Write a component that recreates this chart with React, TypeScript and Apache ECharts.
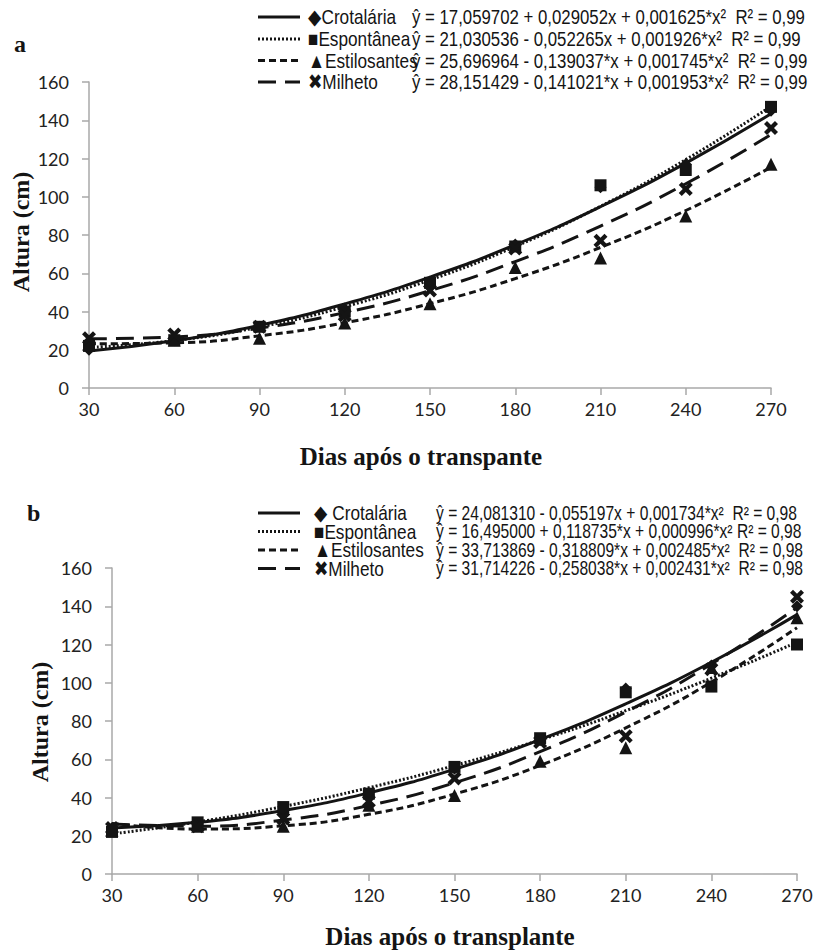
import React, { useEffect, useRef } from "react";
import * as echarts from "echarts";

// ---------- data ----------
const days = [30, 60, 90, 120, 150, 180, 210, 240, 270];
const yTicks = [0, 20, 40, 60, 80, 100, 120, 140, 160];
const seriesNames = ["Crotalária", "Espontânea", "Estilosantes", "Milheto"];

// Panel a – observed heights (cm)
const aCrotalaria = [20, 25, 32, 41, 55, 75, 105, 117, 145];
const aEspontanea = [22, 25, 32, 40, 55, 74, 106, 114, 147];
const aEstilosantes = [23, 25, 26, 34, 44, 63, 68, 90, 117];
const aMilheto = [26, 28, 32, 38, 51, 73, 77, 104, 136];
// Panel a – trend lines (read at each day)
const aFitCrotalaria = [19.4, 24.7, 32.8, 44.0, 58.0, 74.9, 94.8, 117.6, 143.4];
const aFitEspontanea = [21.2, 24.8, 31.9, 42.5, 56.5, 74.0, 95.0, 119.4, 147.3];
const aFitEstilosantes = [23.1, 23.6, 27.3, 34.1, 44.1, 57.2, 73.5, 92.8, 115.4];
const aFitMilheto = [25.7, 26.7, 31.3, 39.4, 50.9, 66.1, 84.7, 106.8, 132.5];
const aLegendNames = ["◆Crotalária", "■Espontânea", "▲Estilosantes", "✖Milheto"];
const aEquations = [
  "ŷ = 17,059702 + 0,029052x + 0,001625*x²  R² = 0,99",
  "ŷ = 21,030536 - 0,052265x + 0,001926*x²  R² = 0,99",
  "ŷ = 25,696964 - 0,139037*x + 0,001745*x²  R² = 0,99",
  "ŷ = 28,151429 - 0,141021*x + 0,001953*x²  R² = 0,99",
];

// Panel b – observed heights (cm)
const bCrotalaria = [24, 26, 32, 40, 55, 70, 97, 109, 140];
const bEspontanea = [22, 27, 35, 42, 56, 71, 95, 98, 120];
const bEstilosantes = [23, 25, 25, 36, 41, 59, 66, 108, 134];
const bMilheto = [24, 25, 29, 38, 50, 69, 72, 107, 145];
// Panel b – trend lines (read at each day)
const bFitCrotalaria = [24.0, 27.0, 33.2, 42.4, 54.8, 70.3, 89.0, 110.7, 135.6];
const bFitEspontanea = [21.0, 27.2, 35.3, 45.1, 56.7, 70.1, 85.4, 102.4, 121.2];
const bFitEstilosantes = [26.4, 23.5, 25.2, 31.2, 41.8, 56.8, 76.4, 100.3, 128.8];
const bFitMilheto = [26.2, 25.0, 28.2, 35.8, 47.7, 64.0, 84.7, 109.8, 139.3];
const bLegendNames = ["◆ Crotalária", "■Espontânea", "▲Estilosantes", "✖Milheto"];
const bEquations = [
  "ŷ = 24,081310 - 0,055197x + 0,001734*x²  R² = 0,98",
  "ŷ = 16,495000 + 0,118735*x + 0,000996*x² R² = 0,98",
  "ŷ = 33,713869 - 0,318809*x + 0,002485*x²  R² = 0,98",
  "ŷ = 31,714226 - 0,258038*x + 0,002431*x²  R² = 0,98",
];

// ---------- styling ----------
const X_PATH =
  "path://M0,3 L3,0 L7,4 L11,0 L14,3 L10,7 L14,11 L11,14 L7,10 L3,14 L0,11 L4,7 Z";
const markerSymbols = ["diamond", "rect", "triangle", X_PATH];
const markerSizes = [12, 12, 13, 14];
const lineTypes: any[] = ["solid", [2, 2], [7, 4], [18, 9]];
const INK = "#141414";
const AXIS = "#a8a8a8";
const TICK_FONT = "Lato, 'Open Sans', sans-serif";
const LEG_FONT = "'Liberation Sans', Arial, sans-serif";
const SERIF = "'Liberation Serif', 'DejaVu Serif', serif";

export default function App() {
  const ref = useRef<HTMLDivElement>(null);
  useEffect(() => {
    if (!ref.current) return;
    const chart = echarts.init(ref.current, null, { renderer: "svg" });

    const grids = [
      { left: 89, top: 82, width: 682, height: 306 },
      { left: 112, top: 568, width: 685, height: 306 },
    ];
    const panelObs = [
      [aCrotalaria, aEspontanea, aEstilosantes, aMilheto],
      [bCrotalaria, bEspontanea, bEstilosantes, bMilheto],
    ];
    const panelFit = [
      [aFitCrotalaria, aFitEspontanea, aFitEstilosantes, aFitMilheto],
      [bFitCrotalaria, bFitEspontanea, bFitEstilosantes, bFitMilheto],
    ];

    const xAxes = grids.map((_, i) => ({
      type: "value",
      gridIndex: i,
      min: days[0],
      max: days[days.length - 1],
      interval: 30,
      axisLine: { lineStyle: { color: AXIS, width: 1.5 } },
      axisTick: { show: true, length: 7, lineStyle: { color: AXIS, width: 1.5 } },
      splitLine: { show: false },
      axisLabel: { color: "#222", fontSize: 18, fontFamily: TICK_FONT, margin: 12 },
    }));
    const yAxes = grids.map((_, i) => ({
      type: "value",
      gridIndex: i,
      min: yTicks[0],
      max: yTicks[yTicks.length - 1],
      interval: 20,
      axisLine: { show: true, lineStyle: { color: AXIS, width: 1.5 } },
      axisTick: { show: true, length: 7, lineStyle: { color: AXIS, width: 1.5 } },
      splitLine: { show: false },
      axisLabel: { color: "#222", fontSize: 18, fontFamily: TICK_FONT, margin: 20 },
    }));

    const series: any[] = [];
    for (let p = 0; p < 2; p++) {
      for (let s = 0; s < 4; s++) {
        series.push({
          type: "line",
          name: seriesNames[s] + " ajuste",
          xAxisIndex: p,
          yAxisIndex: p,
          data: days.map((d, k) => [d, panelFit[p][s][k]]),
          smooth: true,
          showSymbol: false,
          symbol: "none",
          lineStyle: { color: INK, width: 3, type: lineTypes[s] },
          z: 2,
        });
      }
      for (let s = 0; s < 4; s++) {
        series.push({
          type: "scatter",
          name: seriesNames[s],
          xAxisIndex: p,
          yAxisIndex: p,
          data: days.map((d, k) => [d, panelObs[p][s][k]]),
          symbol: markerSymbols[s],
          symbolSize: markerSizes[s],
          itemStyle: { color: INK, opacity: 1 },
          z: 3,
        });
      }
    }

    const graphic: any[] = [];
    const legendCfg = [
      { rows: [17, 39, 60.5, 82], lineX: 258, markX: 308, eqX: 412, names: aLegendNames, eqs: aEquations, size: 21, sx: 0.8 },
      { rows: [513, 531.5, 550, 568.5], lineX: 258, markX: 314, eqX: 436, names: bLegendNames, eqs: bEquations, size: 20, sx: 0.78 },
    ];
    legendCfg.forEach((cfg) => {
      for (let s = 0; s < 4; s++) {
        const y = cfg.rows[s];
        graphic.push({
          type: "line",
          shape: { x1: cfg.lineX, y1: y, x2: cfg.lineX + 42, y2: y },
          style: { stroke: INK, lineWidth: 3, lineDash: s === 0 ? null : lineTypes[s] },
        });
        graphic.push({
          type: "text",
          x: cfg.markX,
          y,
          scaleX: 0.82,
          style: {
            text: cfg.names[s],
            fill: INK,
            font: `21px ${LEG_FONT}`,
            verticalAlign: "middle",
          },
        });
        graphic.push({
          type: "text",
          x: cfg.eqX,
          y,
          scaleX: cfg.sx,
          style: {
            text: cfg.eqs[s],
            fill: INK,
            font: `${cfg.size}px ${LEG_FONT}`,
            verticalAlign: "middle",
          },
        });
      }
    });
    // Panel letters
    graphic.push({
      type: "text",
      x: 14,
      y: 44,
      style: { text: "a", fill: INK, font: `bold 24px ${SERIF}`, verticalAlign: "middle" },
    });
    graphic.push({
      type: "text",
      x: 27,
      y: 513,
      style: { text: "b", fill: INK, font: `bold 24px ${SERIF}`, verticalAlign: "middle" },
    });
    // Axis titles
    const titles = [
      { yx: 21, yy: 232, xx: 421, xy: 456, xt: "Dias após o transpante" },
      { yx: 40, yy: 722, xx: 450, xy: 936, xt: "Dias após o transplante" },
    ];
    titles.forEach((t) => {
      graphic.push({
        type: "text",
        x: t.yx,
        y: t.yy,
        rotation: Math.PI / 2,
        style: {
          text: "Altura (cm)",
          fill: INK,
          font: `bold 24px ${SERIF}`,
          align: "center",
          verticalAlign: "middle",
        },
      });
      graphic.push({
        type: "text",
        x: t.xx,
        y: t.xy,
        style: {
          text: t.xt,
          fill: INK,
          font: `bold 25px ${SERIF}`,
          align: "center",
          verticalAlign: "middle",
        },
      });
    });

    chart.setOption({
      animation: false,
      backgroundColor: "#ffffff",
      grid: grids,
      xAxis: xAxes,
      yAxis: yAxes,
      series,
      graphic,
    });
    return () => chart.dispose();
  }, []);
  return (
    <div
      ref={ref}
      style={{ position: "absolute", left: 0, top: 0, width: 829, height: 952 }}
    />
  );
}
